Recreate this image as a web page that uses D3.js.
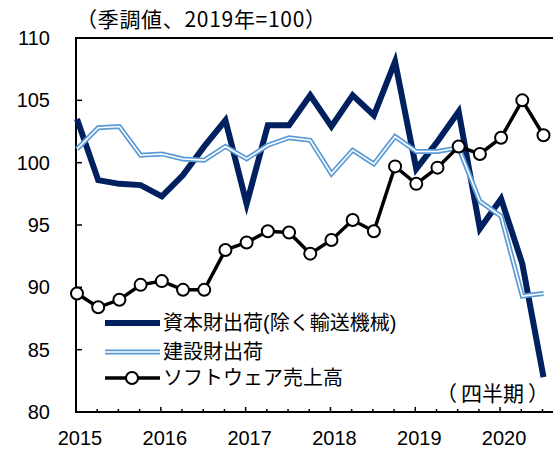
<!DOCTYPE html>
<html><head><meta charset="utf-8">
<script src="https://cdn.jsdelivr.net/npm/d3@7"></script>
<style>
html,body{margin:0;padding:0;background:#fff;}
svg text{font-family:"Liberation Sans","Noto Sans CJK JP",sans-serif;fill:#000;}
svg text.jp{font-family:"Noto Sans CJK JP",sans-serif;}
</style></head>
<body><svg id="c" width="553" height="449"></svg>
<script>
const quarters = ["2015Q1","2015Q2","2015Q3","2015Q4","2016Q1","2016Q2","2016Q3","2016Q4","2017Q1","2017Q2","2017Q3","2017Q4","2018Q1","2018Q2","2018Q3","2018Q4","2019Q1","2019Q2","2019Q3","2019Q4","2020Q1","2020Q2","2020Q3"];
const capital = [103.5,98.6,98.3,98.2,97.3,99.0,101.3,103.4,96.7,103.0,103.0,105.4,102.9,105.4,103.8,108.1,99.5,101.7,104.1,94.7,97.1,91.9,82.8];
const construction = [101.1,102.8,102.9,100.6,100.7,100.3,100.2,101.3,100.3,101.4,102.0,101.8,99.1,101.0,99.9,102.1,100.9,100.9,101.2,96.9,95.7,89.3,89.5];
const software = [89.5,88.4,89.0,90.2,90.5,89.8,89.8,93.0,93.6,94.5,94.4,92.7,93.8,95.4,94.5,99.7,98.3,99.6,101.3,100.7,102.0,105.0,102.2];
const yearLabels = ["2015","2016","2017","2018","2019","2020"];
const yTicks = [80,85,90,95,100,105,110];
const seriesNames = ["資本財出荷(除く輸送機械)","建設財出荷","ソフトウェア売上高"];
const titleText = "（季調値、2019年=100）";
const unitParts = ["（","四半期","）"];

const svg = d3.select("#c");
const x = d3.scaleLinear().domain([0,22]).range([77,543.5]);
const y = d3.scaleLinear().domain([80,110]).range([412,38]);
const L = 76, R = 553;

// y tick labels
svg.selectAll("text.yl").data(yTicks).enter().append("text")
  .attr("x",50).attr("y",d=>y(d)).attr("text-anchor","end")
  .attr("dominant-baseline","central").attr("font-size",20).text(d=>d);
// y ticks (inward)
svg.selectAll("line.yt").data(yTicks.filter(d=>d>80&&d<110)).enter().append("line")
  .attr("x1",L).attr("x2",L+6).attr("y1",d=>y(d)).attr("y2",d=>y(d))
  .attr("stroke","#000").attr("stroke-width",1.5);
// x ticks
const idx = d3.range(1,23);
svg.selectAll("line.xt").data(idx).enter().append("line")
  .attr("x1",d=>x(d)-1).attr("x2",d=>x(d)-1)
  .attr("y1",412).attr("y2",d=>d%4===0?407:409)
  .attr("stroke","#000").attr("stroke-width",1.5);
// frame
svg.append("line").attr("x1",L).attr("x2",L).attr("y1",37).attr("y2",413).attr("stroke","#000").attr("stroke-width",2);
svg.append("line").attr("x1",L-1).attr("x2",R).attr("y1",412).attr("y2",412).attr("stroke","#000").attr("stroke-width",2);
svg.append("line").attr("x1",L-1).attr("x2",R).attr("y1",38).attr("y2",38).attr("stroke","#000").attr("stroke-width",2);
// x labels
svg.selectAll("text.xl").data(yearLabels).enter().append("text")
  .attr("x",(d,i)=>x(i*4)+3).attr("y",445).attr("text-anchor","middle")
  .attr("font-size",20).text(d=>d);
// title / unit
svg.append("text").attr("class","jp").attr("x",76).attr("y",27).attr("font-size",21)
  .attr("letter-spacing",0.7).text(titleText);
const ut = svg.append("text").attr("class","jp").attr("x",549).attr("y",401)
  .attr("text-anchor","end").attr("font-size",21);
ut.selectAll("tspan").data(unitParts).enter().append("tspan")
  .attr("dx",(d,i)=>i===0?0:4).text(d=>d);

const line = d3.line().x((d,i)=>x(i)).y(d=>y(d));
// capital
svg.append("path").datum(capital).attr("d",line).attr("fill","none")
  .attr("stroke","#002060").attr("stroke-width",6).attr("stroke-linejoin","miter");
// construction double line
svg.append("path").datum(construction).attr("d",line).attr("fill","none")
  .attr("stroke","#5B9BD5").attr("stroke-width",5);
svg.append("path").datum(construction).attr("d",line).attr("fill","none")
  .attr("stroke","#fff").attr("stroke-width",1.6);
// software
svg.append("path").datum(software).attr("d",line).attr("fill","none")
  .attr("stroke","#000").attr("stroke-width",3.5);
svg.selectAll("circle.sw").data(software).enter().append("circle")
  .attr("cx",(d,i)=>x(i)).attr("cy",d=>y(d)).attr("r",6)
  .attr("fill","#fff").attr("stroke","#000").attr("stroke-width",2);

// legend
const lg = svg.append("g");
const ly = [323,352,378];
lg.append("line").attr("x1",105).attr("x2",160).attr("y1",ly[0]).attr("y2",ly[0]).attr("stroke","#002060").attr("stroke-width",6);
lg.append("line").attr("x1",105).attr("x2",160).attr("y1",ly[1]).attr("y2",ly[1]).attr("stroke","#5B9BD5").attr("stroke-width",5);
lg.append("line").attr("x1",105).attr("x2",160).attr("y1",ly[1]).attr("y2",ly[1]).attr("stroke","#fff").attr("stroke-width",1.6);
lg.append("line").attr("x1",105).attr("x2",160).attr("y1",ly[2]).attr("y2",ly[2]).attr("stroke","#000").attr("stroke-width",3.5);
lg.append("circle").attr("cx",132).attr("cy",ly[2]).attr("r",6).attr("fill","#fff").attr("stroke","#000").attr("stroke-width",2);
lg.selectAll("text").data(seriesNames).enter().append("text")
  .attr("x",163).attr("y",(d,i)=>ly[i]).attr("dominant-baseline","central")
  .attr("font-size",20).text(d=>d);
</script></body></html>
